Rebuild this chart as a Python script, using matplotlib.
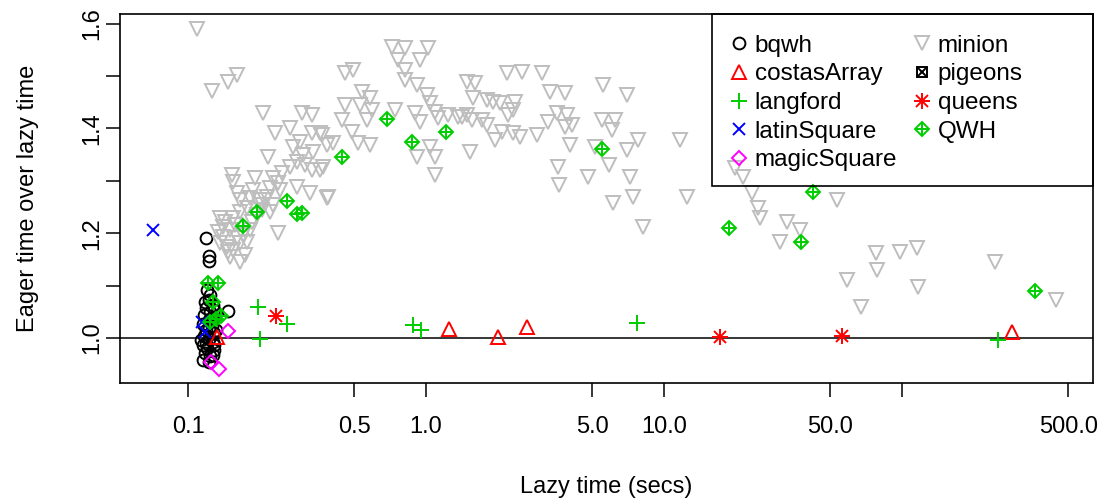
import numpy as np
import matplotlib.pyplot as plt
from matplotlib.ticker import FixedLocator, NullLocator
from matplotlib.patches import Rectangle

plt.rcParams['font.family'] = ['Liberation Sans', 'DejaVu Sans']
plt.rcParams['font.size'] = 17

# lazy time (secs) and eager/lazy ratio, one pair of lists per problem class
bqwh_time = [0.119, 0.122, 0.122, 0.147, 0.124, 0.122, 0.127, 0.119, 0.124, 0.117,
             0.129, 0.122, 0.116, 0.126, 0.119, 0.128, 0.117, 0.123, 0.127, 0.116,
             0.120, 0.129, 0.118, 0.124, 0.116, 0.122, 0.128, 0.131, 0.113, 0.129,
             0.120, 0.118, 0.126, 0.119, 0.127, 0.123]
bqwh_ratio = [1.191, 1.156, 1.147, 1.052, 1.082, 1.073, 1.063, 1.057, 1.050, 1.044,
              1.038, 1.034, 1.027, 1.023, 1.015, 1.010, 1.004, 0.998, 0.992, 0.987,
              0.981, 0.977, 0.971, 0.966, 0.958, 0.954, 0.987, 1.015, 0.996, 1.053,
              1.092, 1.069, 1.038, 0.990, 0.968, 1.019]

costas_time = [0.132, 1.249, 2.01, 2.66, 290]
costas_ratio = [1.002, 1.017, 1.002, 1.021, 1.011]

langford_time = [0.197, 0.261, 0.2005, 0.882, 0.953, 7.70, 253]
langford_ratio = [1.059, 1.027, 0.998, 1.025, 1.015, 1.029, 0.996]

latin_time = [0.0713, 0.1146, 0.118]
latin_ratio = [1.206, 1.031, 1.011]

magic_time = [0.147, 0.125, 0.135]
magic_ratio = [1.013, 0.954, 0.941]

minion_time = [0.109, 0.126, 0.147, 0.161, 0.207, 0.301, 0.332, 0.232, 0.268, 0.296,
               0.332, 0.359, 0.384, 0.407, 0.217, 0.304, 0.335, 0.153, 0.155, 0.191,
               0.228, 0.248, 0.268, 0.287, 0.310, 0.332, 0.359, 0.239, 0.221, 0.215,
               0.201, 0.182, 0.165, 0.161, 0.287, 0.326, 0.384, 0.244, 0.201, 0.165,
               0.155, 0.136, 0.140, 0.150, 0.136, 0.146, 0.155, 0.165, 0.177, 0.150,
               0.165, 0.140, 0.182, 0.228, 0.239, 0.221, 0.143, 0.158, 0.170, 0.161,
               0.147, 0.174, 0.134, 0.186, 0.195, 0.205, 0.211, 0.177, 0.188,
               0.720, 0.816, 1.02, 0.763, 0.944, 0.457, 0.494, 0.816, 0.816, 0.917,
               0.538, 0.582, 0.457, 0.528, 0.593, 0.444, 0.489, 0.565, 0.518, 0.582,
               0.741, 0.899, 0.944, 1.01, 1.04, 1.09, 1.24, 1.36, 1.49, 1.56,
               1.72, 1.12, 1.49, 1.61, 1.58, 1.80, 1.91, 1.95, 1.53, 0.917,
               1.09, 1.09, 1.04, 0.366, 0.388, 0.369,
               2.19, 2.53, 3.07, 3.32, 3.84, 2.05, 2.37, 2.21, 2.32, 2.09,
               2.32, 2.48, 2.93, 3.26, 3.55, 3.91, 3.84, 4.11, 4.03, 5.54,
               6.99, 5.49, 6.22, 6.05, 5.13, 7.78, 6.99, 5.87, 3.59, 4.79,
               7.20, 3.62, 6.11, 7.41, 11.7, 12.5, 8.16,
               19.9, 21.5, 23.4, 24.8, 25.3, 32.9, 37.3, 30.7, 53.3, 77.8,
               98.1, 116, 78.5, 58.7, 117, 67.3, 246, 444,
               0.276, 1.80, 1.42]
minion_ratio = [1.590, 1.471, 1.489, 1.502, 1.429, 1.429, 1.426, 1.391, 1.401, 1.374,
                1.391, 1.391, 1.368, 1.372, 1.345, 1.349, 1.355, 1.311, 1.298, 1.305,
                1.305, 1.315, 1.326, 1.336, 1.330, 1.321, 1.321, 1.296, 1.286, 1.269,
                1.263, 1.267, 1.263, 1.277, 1.288, 1.277, 1.267, 1.282, 1.254, 1.240,
                1.229, 1.229, 1.212, 1.206, 1.181, 1.174, 1.168, 1.181, 1.183, 1.155,
                1.145, 1.193, 1.206, 1.254, 1.200, 1.240, 1.221, 1.216, 1.197, 1.191,
                1.164, 1.158, 1.202, 1.221, 1.235, 1.244, 1.263, 1.248, 1.282,
                1.555, 1.553, 1.553, 1.531, 1.531, 1.506, 1.511, 1.511, 1.492, 1.483,
                1.469, 1.458, 1.445, 1.445, 1.435, 1.416, 1.393, 1.416, 1.372, 1.368,
                1.435, 1.429, 1.412, 1.464, 1.448, 1.431, 1.426, 1.422, 1.426, 1.416,
                1.416, 1.420, 1.489, 1.487, 1.458, 1.454, 1.450, 1.378, 1.355, 1.345,
                1.345, 1.311, 1.365, 1.387, 1.269, 1.326,
                1.506, 1.508, 1.506, 1.469, 1.468, 1.448, 1.450, 1.426, 1.435, 1.393,
                1.391, 1.384, 1.387, 1.412, 1.429, 1.426, 1.403, 1.406, 1.368, 1.483,
                1.464, 1.416, 1.416, 1.397, 1.365, 1.378, 1.359, 1.330, 1.326, 1.307,
                1.307, 1.292, 1.258, 1.269, 1.378, 1.269, 1.212,
                1.324, 1.307, 1.277, 1.248, 1.229, 1.221, 1.206, 1.183, 1.263, 1.162,
                1.164, 1.172, 1.130, 1.111, 1.097, 1.059, 1.145, 1.073,
                1.365, 1.406, 1.422]

pigeons_time = []
pigeons_ratio = []

queens_time = [0.234, 17.2, 56.0]
queens_ratio = [1.042, 1.002, 1.004]

qwh_time = [0.1214, 0.1337, 0.1273, 0.1237, 0.131, 0.1375, 0.170, 0.195, 0.261, 0.287,
            0.301, 0.443, 0.686, 0.873, 1.213, 5.49, 18.75, 42.3, 37.6, 362]
qwh_ratio = [1.105, 1.105, 1.069, 1.031, 1.036, 1.042, 1.214, 1.240, 1.261, 1.237,
             1.239, 1.345, 1.418, 1.374, 1.393, 1.361, 1.210, 1.279, 1.183, 1.090]

xtick_vals = [0.1, 0.5, 1, 5, 10, 50, 100, 500]
xtick_labels = ['0.1', '0.5', '1.0', '5.0', '10.0', '50.0', '', '500.0']
ytick_vals = [1.0, 1.1, 1.2, 1.3, 1.4, 1.5, 1.6]
ytick_labels = ['1.0', '', '1.2', '', '1.4', '', '1.6']

GREEN = '#00CD00'
GRAY = '#BEBEBE'
MEW = 1.4

fig = plt.figure(figsize=(10.99, 4.99), dpi=100)
ax = fig.add_axes([120 / 1099, 116 / 499, 973 / 1099, 369 / 499])

ax.axhline(1.0, color='black', lw=1.1, zorder=1)

kw = dict(ls='none', mfc='none', mew=MEW)
h_bqwh, = ax.plot(bqwh_time, bqwh_ratio, marker='o', ms=8.5, mec='black', **kw)
h_cos, = ax.plot(costas_time, costas_ratio, marker='^', ms=10, mec='red', **kw)
h_lan, = ax.plot(langford_time, langford_ratio, marker='+', ms=11, mec=GREEN, **kw)
h_lat, = ax.plot(latin_time, latin_ratio, marker='x', ms=8, mec='blue', **kw)
h_mag, = ax.plot(magic_time, magic_ratio, marker='D', ms=7.5, mec='magenta', **kw)
h_min, = ax.plot(minion_time, minion_ratio, marker='v', ms=10.5, mec=GRAY, **kw)
h_pig1, = ax.plot(pigeons_time, pigeons_ratio, marker='s', ms=7.5, mec='black', **kw)
h_pig2, = ax.plot(pigeons_time, pigeons_ratio, marker='x', ms=7, mec='black', **kw)
h_q1, = ax.plot(queens_time, queens_ratio, marker='+', ms=11, mec='red', **kw)
h_q2, = ax.plot(queens_time, queens_ratio, marker='x', ms=8, mec='red', **kw)
h_w1, = ax.plot(qwh_time, qwh_ratio, marker='D', ms=7.5, mec=GREEN, **kw)
h_w2, = ax.plot(qwh_time, qwh_ratio, marker='+', ms=10.5, mec=GREEN, **kw)

ax.set_xscale('log')
ax.set_xlim(0.05179, 634.6)
ax.set_ylim(0.9141, 1.6183)
ax.xaxis.set_major_locator(FixedLocator(xtick_vals))
ax.xaxis.set_minor_locator(NullLocator())
ax.set_xticklabels(xtick_labels)
ax.set_yticks(ytick_vals)
ax.set_yticklabels(ytick_labels)
ax.tick_params(axis='both', length=10, width=1.1, direction='out')
ax.tick_params(axis='x', pad=14)
ax.tick_params(axis='y', pad=2, labelrotation=90)
for lab in ax.get_yticklabels():
    lab.set_va('center')
for s in ax.spines.values():
    s.set_linewidth(1.2)

ax.set_xlabel('Lazy time (secs)', va='center')
ax.xaxis.set_label_coords(0.5, (383 - 487) / 369)
ax.set_ylabel('Eager time over lazy time', va='center', ha='center')
ax.yaxis.set_label_coords((28 - 120) / 973, 0.5)

handles = [h_bqwh, h_cos, h_lan, h_lat, h_mag, h_min, (h_pig1, h_pig2), (h_q1, h_q2), (h_w1, h_w2)]
labels = ['bqwh', 'costasArray', 'langford', 'latinSquare', 'magicSquare',
          'minion', 'pigeons', 'queens', 'QWH']
box_x0 = (712 - 120) / 973
box_y0 = (383 - 186) / 369
ax.add_patch(Rectangle((box_x0, box_y0), 1 - box_x0, 1 - box_y0, transform=ax.transAxes,
                       fill=False, ec='black', lw=1.2, zorder=5, clip_on=False))
ax.legend(handles, labels, ncol=2, loc='upper left', bbox_to_anchor=(box_x0, 1),
          borderaxespad=0, frameon=False, numpoints=1, fontsize=17.5,
          handlelength=0.5, handletextpad=0.39, columnspacing=0.78,
          labelspacing=0.27, borderpad=0.86)

fig.savefig('out.png', dpi=100)
